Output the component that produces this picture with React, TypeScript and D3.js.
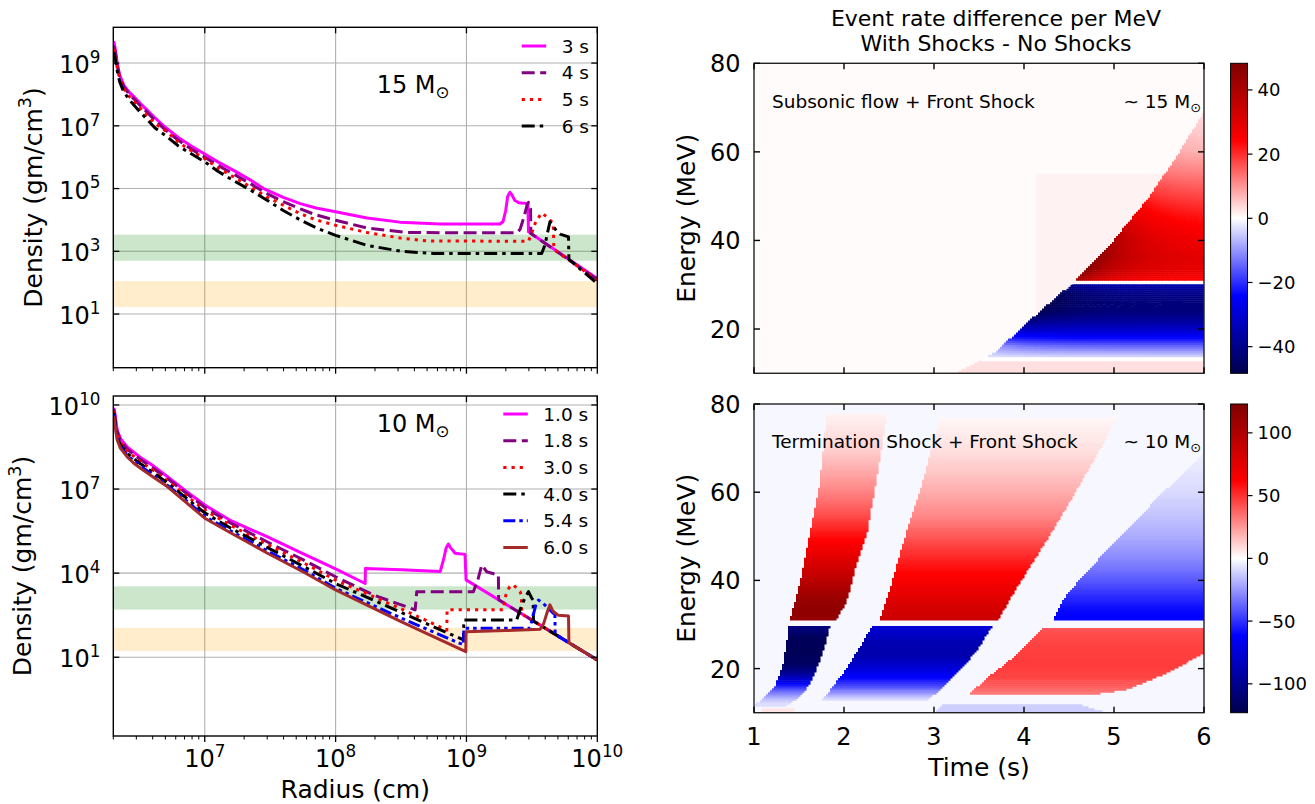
import * as d3 from 'd3'
import { useEffect, useRef } from 'react'

const FONT = "'DejaVu Sans', sans-serif"

// density profiles, points are [log10 radius (cm), log10 density (g/cm^3)]
// 15 Msun
const rho15_3s = [[6.305, 9.7], [6.318, 9.4], [6.331, 9.0], [6.35, 8.62], [6.381, 8.3], [6.42, 8.08], [6.458, 7.93], [6.51, 7.7], [6.56, 7.5], [6.62, 7.25], [6.686, 7.0], [6.8, 6.62], [6.9, 6.35], [7.0, 6.1], [7.1, 5.85], [7.221, 5.58], [7.35, 5.27], [7.45, 5.0], [7.6, 4.72], [7.73, 4.52], [7.85, 4.38], [8.0, 4.26], [8.24, 4.06], [8.49, 3.93], [8.8, 3.87], [9.257, 3.87], [9.28, 3.95], [9.3, 4.3], [9.315, 4.75], [9.333, 4.88], [9.35, 4.78], [9.37, 4.62], [9.4, 4.55], [9.47, 4.52], [9.474, 3.62], [10.0, 2.13]]
const rho15_4s = [[6.305, 9.55], [6.318, 9.3], [6.331, 8.92], [6.35, 8.55], [6.381, 8.24], [6.42, 8.02], [6.458, 7.86], [6.51, 7.63], [6.56, 7.43], [6.62, 7.17], [6.686, 6.92], [6.8, 6.53], [6.9, 6.25], [7.0, 6.0], [7.1, 5.74], [7.221, 5.46], [7.35, 5.15], [7.476, 4.84], [7.6, 4.58], [7.73, 4.35], [7.85, 4.16], [8.0, 3.99], [8.24, 3.74], [8.545, 3.6], [9.0, 3.59], [9.384, 3.59], [9.41, 3.7], [9.44, 4.1], [9.465, 4.5], [9.474, 4.56], [9.49, 4.35], [9.492, 3.57], [10.0, 2.1]]
const rho15_5s = [[6.305, 9.45], [6.318, 9.2], [6.331, 8.85], [6.35, 8.5], [6.381, 8.18], [6.42, 7.95], [6.458, 7.78], [6.51, 7.55], [6.56, 7.33], [6.62, 7.07], [6.713, 6.8], [6.8, 6.47], [6.9, 6.2], [7.0, 5.95], [7.1, 5.66], [7.221, 5.37], [7.35, 5.05], [7.476, 4.73], [7.6, 4.47], [7.73, 4.2], [7.85, 4.0], [8.0, 3.83], [8.24, 3.6], [8.5, 3.42], [8.7, 3.33], [9.474, 3.32], [9.5, 3.6], [9.53, 3.95], [9.575, 4.22], [9.613, 4.1], [9.664, 3.89], [9.668, 3.06], [10.0, 2.08]]
const rho15_6s = [[6.305, 9.35], [6.318, 9.1], [6.331, 8.75], [6.35, 8.4], [6.381, 8.08], [6.42, 7.85], [6.458, 7.66], [6.51, 7.42], [6.56, 7.2], [6.62, 6.93], [6.713, 6.65], [6.8, 6.35], [6.9, 6.1], [7.0, 5.85], [7.1, 5.55], [7.221, 5.25], [7.35, 4.95], [7.476, 4.63], [7.6, 4.3], [7.73, 4.0], [7.85, 3.75], [8.0, 3.51], [8.24, 3.19], [8.5, 3.0], [8.75, 2.93], [9.575, 2.93], [9.6, 3.2], [9.62, 3.6], [9.638, 3.94], [9.68, 3.7], [9.715, 3.55], [9.78, 3.46], [9.783, 2.74], [10.0, 1.97]]
// 10 Msun
const rho10_1s = [[6.305, 9.9], [6.313, 9.7], [6.331, 9.1], [6.356, 8.8], [6.407, 8.5], [6.509, 8.13], [6.6, 7.85], [6.713, 7.45], [6.85, 6.95], [7.0, 6.43], [7.2, 5.87], [7.476, 5.3], [7.75, 4.7], [8.0, 4.15], [8.226, 3.63], [8.228, 4.17], [8.5, 4.12], [8.8, 4.06], [8.824, 4.47], [8.845, 4.9], [8.862, 5.04], [8.88, 4.9], [8.913, 4.71], [8.989, 4.67], [8.997, 3.76], [10.0, 0.9]]
const rho10_18s = [[6.305, 9.85], [6.313, 9.6], [6.331, 9.02], [6.356, 8.72], [6.407, 8.42], [6.509, 8.05], [6.6, 7.76], [6.713, 7.38], [6.85, 6.88], [7.0, 6.35], [7.2, 5.78], [7.476, 5.12], [7.75, 4.48], [8.0, 3.87], [8.3, 3.2], [8.608, 2.69], [8.62, 3.34], [9.053, 3.34], [9.09, 3.81], [9.117, 4.29], [9.155, 4.05], [9.244, 3.93], [9.246, 3.05], [10.0, 0.9]]
const rho10_3s = [[6.305, 9.78], [6.313, 9.5], [6.331, 8.95], [6.356, 8.65], [6.407, 8.35], [6.509, 7.98], [6.6, 7.69], [6.713, 7.3], [6.85, 6.8], [7.0, 6.25], [7.2, 5.7], [7.476, 5.03], [7.75, 4.38], [8.0, 3.75], [8.5, 2.73], [8.85, 1.97], [8.852, 2.69], [9.28, 2.69], [9.3, 3.2], [9.33, 3.52], [9.36, 3.58], [9.41, 3.34], [9.42, 3.2], [9.422, 2.55], [10.0, 0.9]]
const rho10_4s = [[6.305, 9.72], [6.313, 9.45], [6.331, 8.88], [6.356, 8.57], [6.407, 8.27], [6.509, 7.9], [6.6, 7.61], [6.713, 7.22], [6.85, 6.71], [7.0, 6.15], [7.2, 5.6], [7.476, 4.92], [7.75, 4.25], [8.0, 3.63], [8.5, 2.6], [8.977, 1.62], [8.98, 2.33], [9.384, 2.33], [9.41, 2.7], [9.45, 3.15], [9.474, 3.34], [9.5, 3.1], [9.51, 3.04], [9.512, 2.29], [10.0, 0.9]]
const rho10_54s = [[6.305, 9.65], [6.313, 9.35], [6.331, 8.8], [6.356, 8.5], [6.407, 8.2], [6.509, 7.82], [6.6, 7.52], [6.713, 7.14], [6.85, 6.62], [7.0, 6.03], [7.2, 5.5], [7.476, 4.8], [7.75, 4.13], [8.0, 3.46], [8.5, 2.4], [8.977, 1.44], [8.98, 2.03], [9.486, 2.03], [9.51, 2.5], [9.535, 2.95], [9.55, 3.04], [9.587, 2.92], [9.663, 2.57], [9.676, 2.55], [9.678, 1.82], [10.0, 0.9]]
const rho10_6s = [[6.305, 9.6], [6.313, 9.3], [6.331, 8.75], [6.356, 8.45], [6.407, 8.15], [6.458, 7.92], [6.509, 7.74], [6.6, 7.45], [6.713, 7.09], [6.85, 6.55], [7.0, 5.96], [7.2, 5.43], [7.476, 4.72], [7.75, 4.05], [8.0, 3.4], [8.5, 2.27], [8.995, 1.2], [8.997, 1.91], [9.3, 1.95], [9.563, 2.0], [9.59, 2.2], [9.62, 2.65], [9.638, 2.87], [9.66, 2.65], [9.7, 2.5], [9.78, 2.47], [9.783, 1.52], [10.0, 0.9]]

const labels15 = ['3 s', '4 s', '5 s', '6 s']
const labels10 = ['1.0 s', '1.8 s', '3.0 s', '4.0 s', '5.4 s', '6.0 s']

// density bands (g/cm^3)
const greenBand = [500, 3400]
const orangeBand = [16.7, 112]

// decade exponents for ticks
const xDecades = [7, 8, 9, 10]
const yDecades15 = [1, 3, 5, 7, 9]
const yDecades10 = [1, 4, 7, 10]

// event-rate difference maps, E in MeV, t in s
// 15 Msun: diagonal front of the shocked region
const h15EdgeE = [10, 14.5, 22.5, 30.5, 40, 50, 59, 69, 80]
const h15EdgeT = [3.25, 3.67, 4.1, 4.55, 5.0, 5.4, 5.7, 6.0, 6.35]
const h15RedE = [31, 33, 36, 40, 45, 50, 55, 60, 65, 70]
const h15RedNear = [42, 47, 46, 40, 29, 20, 13, 8, 5, 3]
const h15RedFar = [24, 28, 29, 26, 22, 17, 12, 7, 4, 2.5]
const h15BlueE = [13.8, 16, 18, 20, 22, 24, 26, 28, 29.8]
const h15BlueNear = [-3, -10, -22, -33, -42, -47, -48, -46, -40]
const h15BlueFar = [-4, -14, -24, -32, -38, -42, -42, -40, -35]

// 10 Msun: three shocked bands
const b1RedE = [31, 33, 36, 40, 45, 50, 55, 60, 65, 70, 77.5]
const b1RedV = [112, 116, 110, 95, 75, 58, 42, 30, 20, 11, 3]
const b1RedLeftE = [31, 39.3, 48.4, 60.5, 77.5]
const b1RedLeftT = [1.4, 1.51, 1.6, 1.72, 1.81]
const b1RedRightE = [31, 34.8, 43.9, 51.4, 68, 77.5]
const b1RedRightT = [1.91, 2.02, 2.14, 2.26, 2.4, 2.47]
const b1BlueE = [12, 13, 15, 17, 19, 21, 24, 27, 29.5]
const b1BlueV = [-8, -15, -38, -70, -100, -115, -120, -118, -105]
const b1BlueLeftE = [11.5, 12.9, 15.9, 20.4, 25.7, 29.5]
const b1BlueLeftT = [1.0, 1.08, 1.23, 1.32, 1.36, 1.39]
const b1BlueRightE = [11.5, 13.6, 16.7, 21.2, 25.7, 29.5]
const b1BlueRightT = [1.35, 1.51, 1.62, 1.72, 1.79, 1.84]

const b2RedE = [31, 34, 38, 42, 46, 50, 55, 60, 65, 70, 77]
const b2RedV = [85, 82, 70, 60, 50, 40, 28, 20, 13, 7, 2]
const b2RedLeftE = [31, 38.6, 49.9, 62, 72.6, 77]
const b2RedLeftT = [2.4, 2.52, 2.68, 2.87, 3.01, 3.08]
const b2RedRightE = [31, 37.8, 43.9, 51.4, 59.7, 69.6, 77]
const b2RedRightT = [3.71, 3.9, 4.09, 4.32, 4.56, 4.84, 5.03]
const b2BlueE = [13, 14, 16, 18, 20, 23, 26, 29.5]
const b2BlueV = [-8, -20, -45, -62, -75, -90, -88, -75]
const b2BlueLeftE = [12.8, 13.6, 15.9, 19.7, 24.2, 29.5]
const b2BlueLeftT = [1.74, 1.79, 1.88, 2.02, 2.16, 2.31]
const b2BlueRightE = [12.8, 15.1, 19.7, 24.2, 29.5]
const b2BlueRightT = [2.92, 3.06, 3.29, 3.48, 3.64]

const b3BlueE = [31, 33, 36, 40, 45, 50, 55, 60, 65, 70]
const b3BlueV = [-62, -60, -52, -40, -28, -20, -14, -9, -6, -3]
const b3BlueLeftE = [31, 36.3, 40.8, 46.9, 52.9, 59, 64.3, 68.8, 80]
const b3BlueLeftT = [4.32, 4.46, 4.65, 4.93, 5.22, 5.5, 5.78, 5.99, 6.5]
const b3RedE = [14, 16, 18, 20, 22, 25, 28, 29]
const b3RedV = [32, 40, 45, 47, 47, 46, 43, 40]
const b3RedLeftE = [14, 18.2, 21.9, 25.7, 29.1]
const b3RedLeftT = [3.38, 3.62, 3.85, 4.04, 4.21]
const b3RedFloorT = [3.38, 4.8, 5.12, 5.59, 6.0]
const b3RedFloorE = [14.0, 14.2, 15.1, 18.9, 23.5]

const cbTicks15 = [-40, -20, 0, 20, 40]
const cbTicks10 = [-100, -50, 0, 50, 100]
const timeTicks = [1, 2, 3, 4, 5, 6]
const energyTicks = [20, 40, 60, 80]

// matplotlib "seismic"
const seismic = ['#00004c', '#0000ff', '#ffffff', '#ff0000', '#800000']

const lerp = (xs: number[], ys: number[]) => d3.scaleLinear().domain(xs).range(ys).clamp(true)
const flat = (c: number) => () => c
const nearFar = (es: number[], near: number[], far: number[]) => {
    const n = lerp(es, near), f = lerp(es, far)
    return (t: number, e: number, tl: number) => f(e) + (n(e) - f(e)) * Math.exp(-(t - tl) / 0.35)
}
const prof = (es: number[], vs: number[]) => {
    const p = lerp(es, vs)
    return (t: number, e: number) => p(e)
}

const valueAt = (regions: any[], bg: number, t: number, e: number) => {
    let v = bg
    for (const r of regions) {
        if (e < r.e0 || e > r.e1) continue
        const tl = r.left(e)
        if (t < tl || t > r.right(e)) continue
        if (r.floor && e < r.floor(t)) continue
        v = r.value(t, e, tl)
    }
    return v
}

const addPow = (sel: any, base: string, exp: string, size: number) => {
    sel.append('tspan').text(base)
    sel.append('tspan').attr('dy', -0.42 * size).attr('font-size', size * 0.7).text(exp)
}

const addSun = (sel: any, text: string, size: number) => {
    sel.append('tspan').text(text)
    sel.append('tspan').attr('dy', size * 0.22).attr('font-size', size * 0.7).text('⊙')
}

function drawDensity(svg: any, cfg: any) {
    const L = 113.3, R = 597.3
    const { top, bottom, yExp, yDecades, series, labels, styles, legendTop, legendX, mass, massY, xLabels, yLabelX, id } = cfg
    const x = d3.scaleLog().domain([2e6, 1e10]).range([L, R])
    const y = d3.scaleLog().domain([10 ** yExp[0], 10 ** yExp[1]]).range([bottom, top])
    const g = svg.append('g')

    // grid
    g.selectAll('.gx').data(xDecades.slice(0, 3)).enter().append('line')
        .attr('x1', (d: number) => x(10 ** d)).attr('x2', (d: number) => x(10 ** d))
        .attr('y1', top).attr('y2', bottom)
        .attr('stroke', '#b0b0b0').attr('stroke-width', 1.1)
    g.selectAll('.gy').data(yDecades).enter().append('line')
        .attr('x1', L).attr('x2', R)
        .attr('y1', (d: number) => y(10 ** d)).attr('y2', (d: number) => y(10 ** d))
        .attr('stroke', '#b0b0b0').attr('stroke-width', 1.1)

    // density bands
    g.append('rect').attr('x', L).attr('width', R - L)
        .attr('y', y(greenBand[1])).attr('height', y(greenBand[0]) - y(greenBand[1]))
        .attr('fill', 'green').attr('opacity', 0.2)
    g.append('rect').attr('x', L).attr('width', R - L)
        .attr('y', y(orangeBand[1])).attr('height', y(orangeBand[0]) - y(orangeBand[1]))
        .attr('fill', 'orange').attr('opacity', 0.2)

    svg.append('clipPath').attr('id', id).append('rect')
        .attr('x', L).attr('y', top).attr('width', R - L).attr('height', bottom - top)

    const line = d3.line<number[]>().x(d => x(10 ** d[0])).y(d => y(10 ** d[1]))
    series.forEach((s: number[][], i: number) => {
        g.append('path').attr('d', line(s))
            .attr('fill', 'none').attr('stroke', styles[i].color).attr('stroke-width', 3)
            .attr('stroke-dasharray', styles[i].dash).attr('stroke-linejoin', 'round')
            .attr('clip-path', `url(#${id})`)
    })

    // frame
    g.append('rect').attr('x', L).attr('y', top).attr('width', R - L).attr('height', bottom - top)
        .attr('fill', 'none').attr('stroke', 'black').attr('stroke-width', 1.4)

    // x ticks: major out at bottom, in at top, minor out
    xDecades.forEach(d => {
        const px = x(10 ** d)
        g.append('line').attr('x1', px).attr('x2', px).attr('y1', bottom).attr('y2', bottom + 6).attr('stroke', 'black').attr('stroke-width', 1.3)
        g.append('line').attr('x1', px).attr('x2', px).attr('y1', top).attr('y2', top + 6).attr('stroke', 'black').attr('stroke-width', 1.3)
        if (xLabels) {
            const t = g.append('text').attr('x', px).attr('y', bottom + 30.7)
                .attr('text-anchor', 'middle').attr('font-size', 24)
            addPow(t, '10', String(d), 24)
        }
    })
    for (let d = 6; d < 10; d++) {
        for (let m = 2; m < 10; m++) {
            const v = m * 10 ** d
            if (v < 2e6 || v > 1e10) continue
            g.append('line').attr('x1', x(v)).attr('x2', x(v)).attr('y1', bottom).attr('y2', bottom + 3.5)
                .attr('stroke', 'black').attr('stroke-width', 1)
        }
    }
    // y ticks inward both sides
    yDecades.forEach((d: number) => {
        const py = y(10 ** d)
        g.append('line').attr('x1', L).attr('x2', L + 6).attr('y1', py).attr('y2', py).attr('stroke', 'black').attr('stroke-width', 1.3)
        g.append('line').attr('x1', R).attr('x2', R - 6).attr('y1', py).attr('y2', py).attr('stroke', 'black').attr('stroke-width', 1.3)
        const t = g.append('text').attr('x', 100.5).attr('y', py + 10)
            .attr('text-anchor', 'end').attr('font-size', 24)
        addPow(t, '10', String(d), 24)
    })

    // y label
    const yl = g.append('text')
        .attr('transform', `translate(${yLabelX},${(top + bottom) / 2}) rotate(-90)`)
        .attr('text-anchor', 'middle').attr('font-size', 25)
    addPow(yl, 'Density (gm/cm', '3', 25)
    yl.append('tspan').attr('dy', 0.42 * 25).text(')')

    // mass label
    const ml = g.append('text').attr('x', 376.7).attr('y', massY).attr('font-size', 24)
    addSun(ml, mass, 24)

    // legend (no frame)
    labels.forEach((lab: string, i: number) => {
        const cy = legendTop + i * 26.7
        g.append('line').attr('x1', legendX).attr('x2', legendX + 24.5).attr('y1', cy).attr('y2', cy)
            .attr('stroke', styles[i].color).attr('stroke-width', 3).attr('stroke-dasharray', styles[i].dash)
        g.append('text').attr('x', legendX + 40).attr('y', cy + 6.6).attr('font-size', 18.5).text(lab)
    })
}

function drawHeat(svg: any, cfg: any) {
    const L = 754, R = 1204
    const CB0 = 1230.6, CB1 = 1247.5
    const { top, bottom, vmax, bg, regions, cbTicks, xLabels, note, mass, noteY, id } = cfg
    const x = d3.scaleLinear().domain([1, 6]).range([L, R])
    const y = d3.scaleLinear().domain([10, 80]).range([bottom, top])
    const color = d3.scaleLinear<string>().domain([-vmax, -vmax / 2, 0, vmax / 2, vmax]).range(seismic).clamp(true)
    const g = svg.append('g')

    // cells, merged into horizontal runs of equal colour
    const nT = 225, nE = 154
    const dt = 5 / nT, dE = 70 / nE
    const step = vmax / 240
    const runs = new Map<string, string>()
    for (let j = 0; j < nE; j++) {
        const e = 10 + (j + 0.5) * dE
        const ya = y(10 + (j + 1) * dE), yb = y(10 + j * dE)
        let start = 0
        let cur = ''
        for (let i = 0; i <= nT; i++) {
            const c = i < nT ? color(Math.round(valueAt(regions, bg, 1 + (i + 0.5) * dt, e) / step) * step) : '#end'
            if (i === 0) { cur = c; continue }
            if (c !== cur) {
                const xa = x(1 + start * dt), xb = Math.min(x(1 + i * dt) + 0.5, R)
                const rect = `M${xa.toFixed(2)},${Math.max(ya - 0.5, top).toFixed(2)}H${xb.toFixed(2)}V${yb.toFixed(2)}H${xa.toFixed(2)}Z`
                runs.set(cur, (runs.get(cur) || '') + rect)
                start = i
                cur = c
            }
        }
    }
    runs.forEach((d, c) => g.append('path').attr('d', d).attr('fill', c))

    // frame + inward ticks
    g.append('rect').attr('x', L).attr('y', top).attr('width', R - L).attr('height', bottom - top)
        .attr('fill', 'none').attr('stroke', '#222').attr('stroke-width', 1.4)
    timeTicks.forEach(t => {
        g.append('line').attr('x1', x(t)).attr('x2', x(t)).attr('y1', bottom).attr('y2', bottom - 6).attr('stroke', 'black').attr('stroke-width', 1.4)
        g.append('line').attr('x1', x(t)).attr('x2', x(t)).attr('y1', top).attr('y2', top + 6).attr('stroke', 'black').attr('stroke-width', 1.4)
        if (xLabels) {
            g.append('text').attr('x', x(t)).attr('y', bottom + 32.5).attr('text-anchor', 'middle')
                .attr('font-size', 24).text(t)
        }
    })
    energyTicks.forEach(e => {
        g.append('line').attr('x1', L).attr('x2', L + 6).attr('y1', y(e)).attr('y2', y(e)).attr('stroke', 'black').attr('stroke-width', 1.4)
        g.append('line').attr('x1', R).attr('x2', R - 6).attr('y1', y(e)).attr('y2', y(e)).attr('stroke', 'black').attr('stroke-width', 1.4)
        g.append('text').attr('x', 740.5).attr('y', y(e) + 9).attr('text-anchor', 'end')
            .attr('font-size', 24).text(e)
    })

    g.append('text')
        .attr('transform', `translate(695,${(top + bottom) / 2}) rotate(-90)`)
        .attr('text-anchor', 'middle').attr('font-size', 25).text('Energy (MeV)')

    // annotations
    g.append('text').attr('x', 772).attr('y', noteY).attr('font-size', 18.5).text(note)
    const ml = g.append('text').attr('x', 1201).attr('y', noteY).attr('text-anchor', 'end').attr('font-size', 18.5)
    addSun(ml, mass, 18.5)

    // colorbar
    const grad = svg.append('defs').append('linearGradient').attr('id', id + '-cb')
        .attr('x1', 0).attr('y1', 1).attr('x2', 0).attr('y2', 0)
    seismic.forEach((c, k) => grad.append('stop').attr('offset', k / 4).attr('stop-color', c))
    g.append('rect').attr('x', CB0).attr('y', top).attr('width', CB1 - CB0).attr('height', bottom - top)
        .attr('fill', `url(#${id}-cb)`).attr('stroke', 'black').attr('stroke-width', 1)
    const cy = d3.scaleLinear().domain([-vmax, vmax]).range([bottom, top])
    cbTicks.forEach((v: number) => {
        g.append('line').attr('x1', CB1).attr('x2', CB1 + 5).attr('y1', cy(v)).attr('y2', cy(v)).attr('stroke', 'black').attr('stroke-width', 1.2)
        g.append('text').attr('x', CB1 + 10).attr('y', cy(v) + 6.5).attr('font-size', 18)
            .text(v < 0 ? `−${Math.abs(v)}` : String(v))
    })
}

const App = () => {
    const ref = useRef<SVGSVGElement>(null)

    useEffect(() => {
        const svg = d3.select(ref.current)
        svg.selectAll('*').remove()

        const styles15 = [
            { color: '#ff00ff', dash: null },
            { color: '#800080', dash: '13,5.5' },
            { color: '#ff0000', dash: '3.2,5' },
            { color: '#000000', dash: '13,5,3.5,5' },
        ]
        const styles10 = [
            { color: '#ff00ff', dash: null },
            { color: '#800080', dash: '13,5.5' },
            { color: '#ff0000', dash: '3.2,5' },
            { color: '#000000', dash: '13,5,3.5,5' },
            { color: '#0000ff', dash: '12,4,3.5,4,3.5,4' },
            { color: '#a52a2a', dash: null },
        ]

        drawDensity(svg, {
            top: 27.3, bottom: 367.7, yExp: [-0.71, 10.14], yDecades: yDecades15,
            series: [rho15_3s, rho15_4s, rho15_5s, rho15_6s], labels: labels15, styles: styles15,
            legendTop: 46, legendX: 521.7, mass: '15 M', massY: 92.7, xLabels: false, yLabelX: 41.5, id: 'clip15',
        })
        drawDensity(svg, {
            top: 396, bottom: 736, yExp: [-1.81, 10.32], yDecades: yDecades10,
            series: [rho10_1s, rho10_18s, rho10_3s, rho10_4s, rho10_54s, rho10_6s], labels: labels10, styles: styles10,
            legendTop: 414, legendX: 503.3, mass: '10 M', massY: 431.7, xLabels: true, yLabelX: 31, id: 'clip10',
        })
        svg.append('text').attr('x', 355.3).attr('y', 798).attr('text-anchor', 'middle')
            .attr('font-size', 25).text('Radius (cm)')

        const edge15 = lerp(h15EdgeE, h15EdgeT)
        const regions15 = [
            { e0: 10, e1: 55, left: flat(4.13), right: flat(6), value: () => 1.3 },
            { e0: 10, e1: 12.6, left: edge15, right: flat(6), value: () => 3 },
            { e0: 12.6, e1: 13.8, left: edge15, right: flat(6), value: () => 0 },
            { e0: 13.8, e1: 29.8, left: edge15, right: flat(6), value: nearFar(h15BlueE, h15BlueNear, h15BlueFar) },
            { e0: 29.8, e1: 31, left: edge15, right: flat(6), value: () => 0 },
            { e0: 31, e1: 80, left: edge15, right: flat(6), value: nearFar(h15RedE, h15RedNear, h15RedFar) },
        ]
        const regions10 = [
            { e0: 10, e1: 11, left: flat(1.1), right: flat(1.45), value: () => 6 },
            { e0: 10, e1: 11.8, left: lerp([10, 11.8], [3.0, 3.1]), right: lerp([10, 11.8], [4.9, 4.6]), value: () => -12 },
            { e0: 31, e1: 77.5, left: lerp(b1RedLeftE, b1RedLeftT), right: lerp(b1RedRightE, b1RedRightT), value: prof(b1RedE, b1RedV) },
            { e0: 11.5, e1: 29.5, left: lerp(b1BlueLeftE, b1BlueLeftT), right: lerp(b1BlueRightE, b1BlueRightT), value: prof(b1BlueE, b1BlueV) },
            { e0: 31, e1: 77, left: lerp(b2RedLeftE, b2RedLeftT), right: lerp(b2RedRightE, b2RedRightT), value: prof(b2RedE, b2RedV) },
            { e0: 12.8, e1: 29.5, left: lerp(b2BlueLeftE, b2BlueLeftT), right: lerp(b2BlueRightE, b2BlueRightT), value: prof(b2BlueE, b2BlueV) },
            { e0: 31, e1: 80, left: lerp(b3BlueLeftE, b3BlueLeftT), right: flat(7), value: prof(b3BlueE, b3BlueV) },
            { e0: 14, e1: 29, left: lerp(b3RedLeftE, b3RedLeftT), right: flat(7), floor: lerp(b3RedFloorT, b3RedFloorE), value: prof(b3RedE, b3RedV) },
        ]

        drawHeat(svg, {
            top: 63.3, bottom: 373.3, vmax: 48.3, bg: 0.5, regions: regions15, cbTicks: cbTicks15,
            xLabels: false, note: 'Subsonic flow + Front Shock', mass: '~  15 M', noteY: 108.3, id: 'h15',
        })
        drawHeat(svg, {
            top: 404, bottom: 712.7, vmax: 123, bg: -2, regions: regions10, cbTicks: cbTicks10,
            xLabels: true, note: 'Termination Shock + Front Shock', mass: '~  10 M', noteY: 448.3, id: 'h10',
        })
        svg.append('text').attr('x', 979).attr('y', 776).attr('text-anchor', 'middle')
            .attr('font-size', 25).text('Time (s)')
        svg.append('text').attr('x', 996).attr('y', 26).attr('text-anchor', 'middle')
            .attr('font-size', 22).text('Event rate difference per MeV')
        svg.append('text').attr('x', 996).attr('y', 50.7).attr('text-anchor', 'middle')
            .attr('font-size', 22).text('With Shocks - No Shocks')
    }, [])

    return (
        <svg ref={ref} width={1315} height={804}
            style={{ position: 'absolute', left: 0, top: 0, background: 'white', fontFamily: FONT }} />
    )
}

export default App
